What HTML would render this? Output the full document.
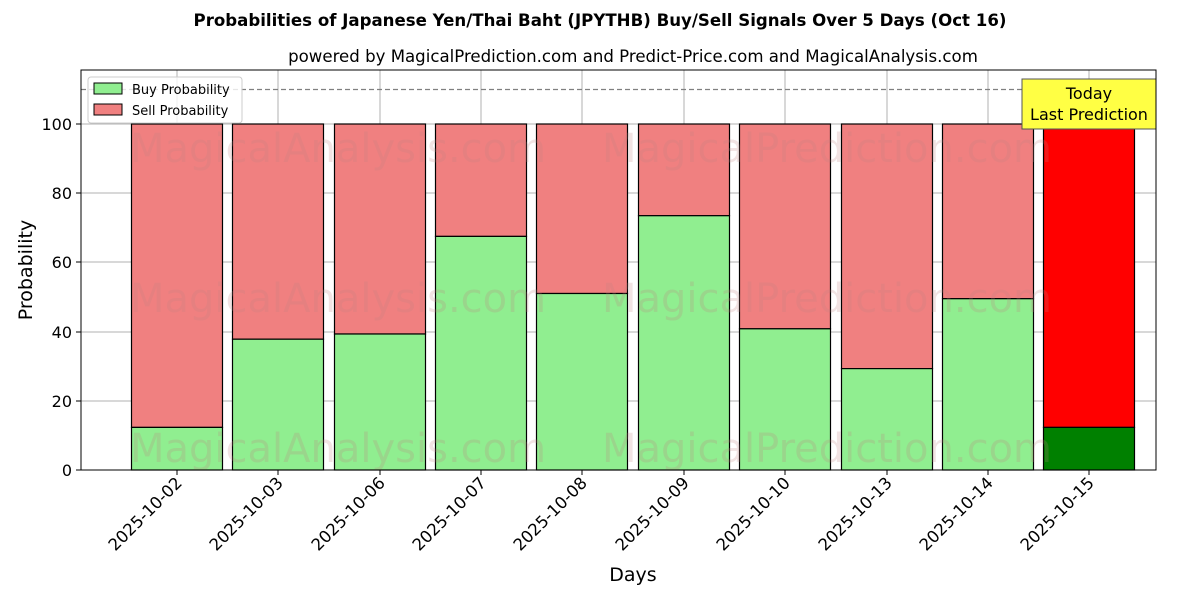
<!DOCTYPE html>
<html><head><meta charset="utf-8"><style>body{margin:0;background:#fff}svg{display:block}</style></head><body>
<svg width="1200" height="600" xmlns="http://www.w3.org/2000/svg" font-family="'DejaVu Sans','Liberation Sans',sans-serif">
<rect width="1200" height="600" fill="#fff"/>
<text x="600" y="26" text-anchor="middle" font-size="16.6" font-weight="bold">Probabilities of Japanese Yen/Thai Baht (JPYTHB) Buy/Sell Signals Over 5 Days (Oct 16)</text>
<text x="633" y="62" text-anchor="middle" font-size="16.6">powered by MagicalPrediction.com and Predict-Price.com and MagicalAnalysis.com</text>
<g stroke="#b0b0b0" stroke-width="1">
<line x1="177" y1="70" x2="177" y2="470"/><line x1="278" y1="70" x2="278" y2="470"/><line x1="380" y1="70" x2="380" y2="470"/><line x1="481" y1="70" x2="481" y2="470"/><line x1="582" y1="70" x2="582" y2="470"/><line x1="684" y1="70" x2="684" y2="470"/><line x1="785" y1="70" x2="785" y2="470"/><line x1="887" y1="70" x2="887" y2="470"/><line x1="988" y1="70" x2="988" y2="470"/><line x1="1089" y1="70" x2="1089" y2="470"/>
<line x1="81" y1="401" x2="1156" y2="401"/><line x1="81" y1="332" x2="1156" y2="332"/><line x1="81" y1="262" x2="1156" y2="262"/><line x1="81" y1="193" x2="1156" y2="193"/><line x1="81" y1="124" x2="1156" y2="124"/>
</g>
<g stroke="#000" stroke-width="1.2">
<rect x="131.5" y="124" width="91" height="303.4" fill="#f08080"/><rect x="131.5" y="427.4" width="91" height="42.6" fill="#90ee90"/>
<rect x="232.5" y="124" width="91" height="215.2" fill="#f08080"/><rect x="232.5" y="339.2" width="91" height="130.8" fill="#90ee90"/>
<rect x="334.5" y="124" width="91" height="210" fill="#f08080"/><rect x="334.5" y="334" width="91" height="136" fill="#90ee90"/>
<rect x="435.5" y="124" width="91" height="112.4" fill="#f08080"/><rect x="435.5" y="236.4" width="91" height="233.6" fill="#90ee90"/>
<rect x="536.5" y="124" width="91" height="169.5" fill="#f08080"/><rect x="536.5" y="293.5" width="91" height="176.5" fill="#90ee90"/>
<rect x="638.5" y="124" width="91" height="91.7" fill="#f08080"/><rect x="638.5" y="215.7" width="91" height="254.3" fill="#90ee90"/>
<rect x="739.5" y="124" width="91" height="204.8" fill="#f08080"/><rect x="739.5" y="328.8" width="91" height="141.2" fill="#90ee90"/>
<rect x="841.5" y="124" width="91" height="244.6" fill="#f08080"/><rect x="841.5" y="368.6" width="91" height="101.4" fill="#90ee90"/>
<rect x="942.5" y="124" width="91" height="174.7" fill="#f08080"/><rect x="942.5" y="298.7" width="91" height="171.3" fill="#90ee90"/>
<rect x="1043.5" y="124" width="91" height="303.4" fill="#ff0000"/><rect x="1043.5" y="427.4" width="91" height="42.6" fill="#008000"/>
</g>
<g font-size="40" fill="#c08080" fill-opacity="0.22">
<text x="130" y="162">MagicalAnalysis.com</text><text x="602" y="162">MagicalPrediction.com</text>
<text x="130" y="312">MagicalAnalysis.com</text><text x="602" y="312">MagicalPrediction.com</text>
<text x="130" y="462">MagicalAnalysis.com</text><text x="602" y="462">MagicalPrediction.com</text>
</g>
<line x1="81" y1="89.5" x2="1156" y2="89.5" stroke="#808080" stroke-width="1.3" stroke-dasharray="5,3"/>
<rect x="1022" y="79" width="134" height="50" fill="#ffff44" stroke="#555" stroke-width="1"/>
<text x="1089" y="99" text-anchor="middle" font-size="16">Today</text>
<text x="1089" y="120" text-anchor="middle" font-size="16">Last Prediction</text>
<rect x="81" y="70" width="1075" height="400" fill="none" stroke="#000" stroke-width="1"/>
<g font-size="16" text-anchor="end">
<text x="72" y="476">0</text><text x="72" y="407">20</text><text x="72" y="338">40</text><text x="72" y="268">60</text><text x="72" y="199">80</text><text x="72" y="130">100</text>
</g>
<g stroke="#000"><line x1="76" y1="470" x2="81" y2="470"/><line x1="76" y1="401" x2="81" y2="401"/><line x1="76" y1="332" x2="81" y2="332"/><line x1="76" y1="262" x2="81" y2="262"/><line x1="76" y1="193" x2="81" y2="193"/><line x1="76" y1="124" x2="81" y2="124"/></g>
<text transform="translate(32,270) rotate(-90)" text-anchor="middle" font-size="19">Probability</text>
<text x="633" y="581" text-anchor="middle" font-size="19">Days</text>
<g font-size="16.5" text-anchor="end">
<text transform="translate(183,484) rotate(-45)">2025-10-02</text>
<text transform="translate(284,484) rotate(-45)">2025-10-03</text>
<text transform="translate(386,484) rotate(-45)">2025-10-06</text>
<text transform="translate(487,484) rotate(-45)">2025-10-07</text>
<text transform="translate(588,484) rotate(-45)">2025-10-08</text>
<text transform="translate(690,484) rotate(-45)">2025-10-09</text>
<text transform="translate(791,484) rotate(-45)">2025-10-10</text>
<text transform="translate(893,484) rotate(-45)">2025-10-13</text>
<text transform="translate(994,484) rotate(-45)">2025-10-14</text>
<text transform="translate(1095,484) rotate(-45)">2025-10-15</text>
</g>
<g stroke="#000"><line x1="177" y1="470" x2="177" y2="475"/><line x1="278" y1="470" x2="278" y2="475"/><line x1="380" y1="470" x2="380" y2="475"/><line x1="481" y1="470" x2="481" y2="475"/><line x1="582" y1="470" x2="582" y2="475"/><line x1="684" y1="470" x2="684" y2="475"/><line x1="785" y1="470" x2="785" y2="475"/><line x1="887" y1="470" x2="887" y2="475"/><line x1="988" y1="470" x2="988" y2="475"/><line x1="1089" y1="470" x2="1089" y2="475"/></g>
<rect x="88" y="77" width="154" height="46" fill="#fff" fill-opacity="0.8" stroke="#ccc" rx="3"/>
<rect x="94" y="83" width="28" height="11" fill="#90ee90" stroke="#000"/>
<rect x="94" y="104" width="28" height="11" fill="#f08080" stroke="#000"/>
<text x="132" y="94" font-size="13">Buy Probability</text>
<text x="132" y="115" font-size="13">Sell Probability</text>
</svg>
</body></html>
